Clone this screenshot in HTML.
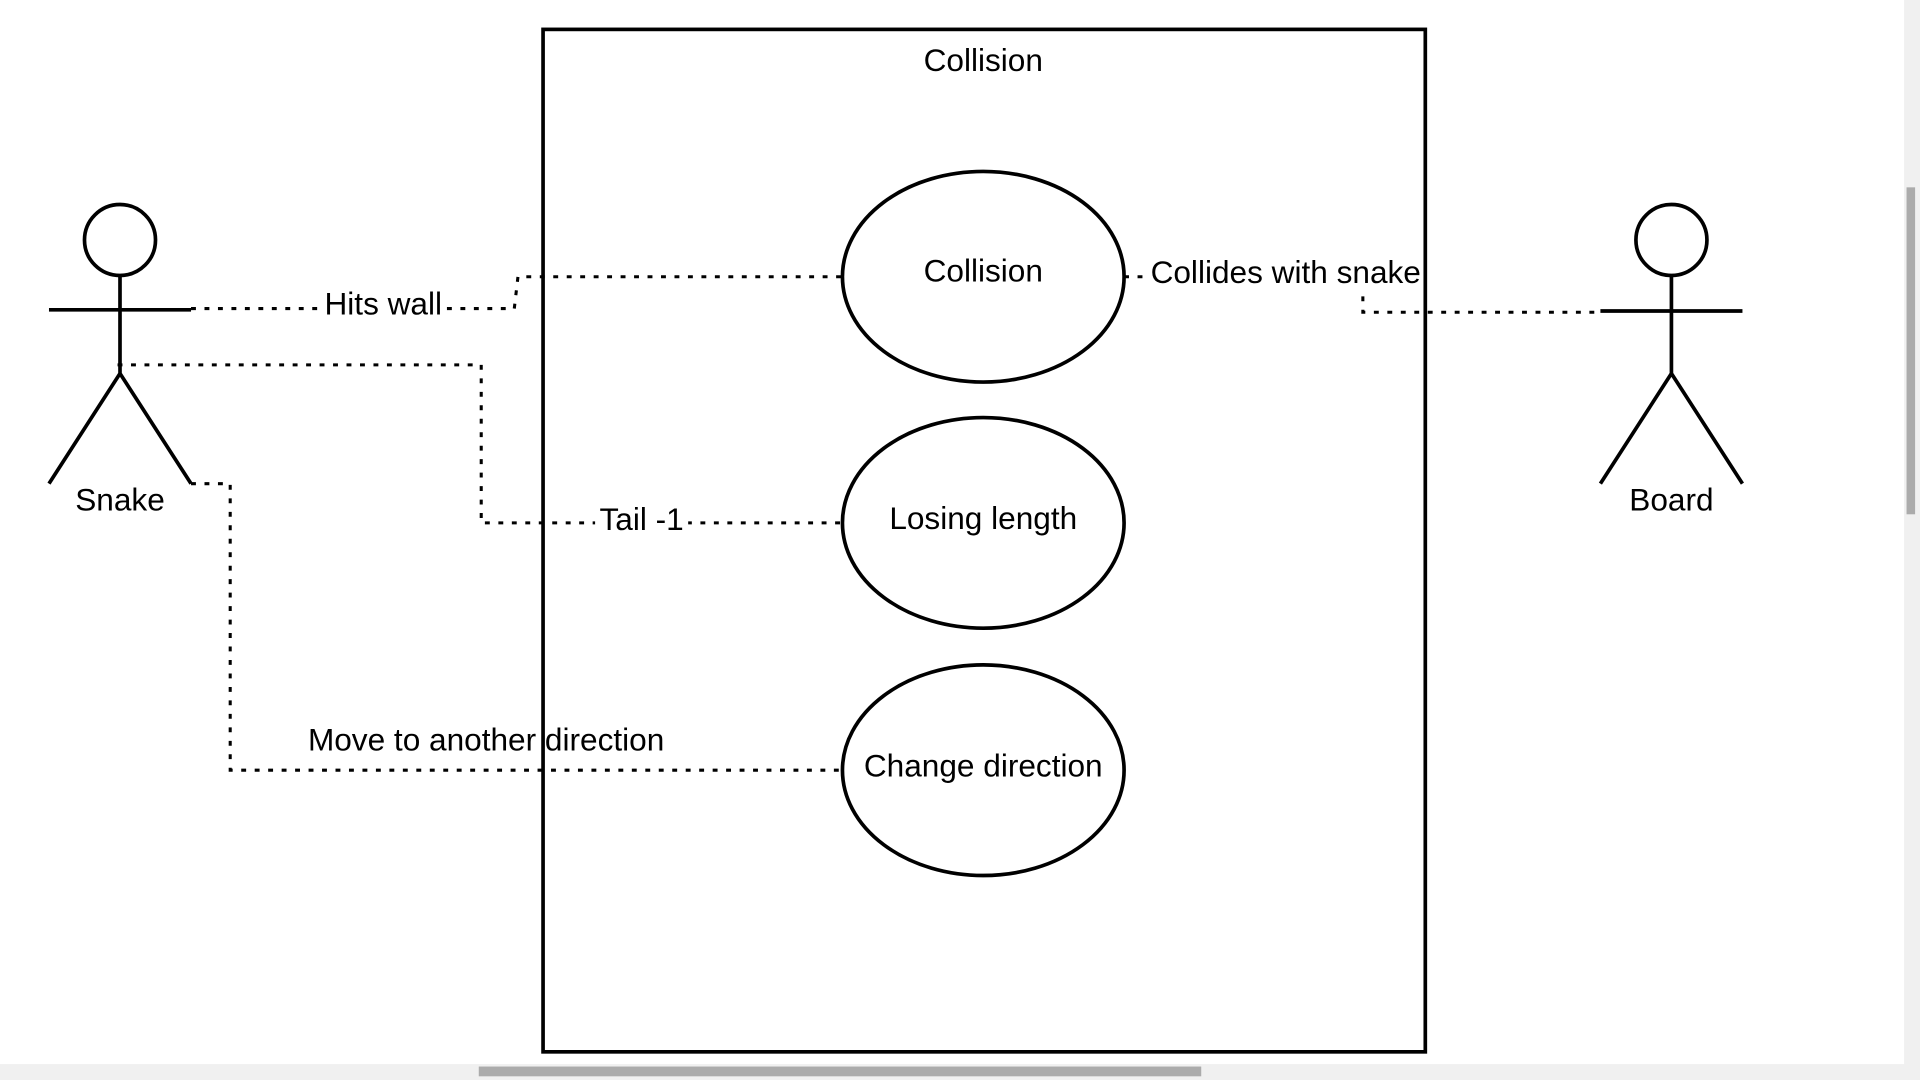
<!DOCTYPE html>
<html><head><style>html,body{margin:0;padding:0;background:#fff;overflow:hidden}svg{display:block}</style></head>
<body>
<svg width="1920" height="1080" viewBox="0 0 1568 882" xmlns="http://www.w3.org/2000/svg" font-family="Liberation Sans, sans-serif" font-size="25.8">
<rect x="0" y="0" width="1568" height="882" fill="#fff"/>
<rect x="443.5" y="24" width="720.5" height="835" fill="none" stroke="#000" stroke-width="3"/>
<text x="803" y="58" text-anchor="middle">Collision</text>
<g fill="none" stroke="#000" stroke-width="2.5" stroke-dasharray="4 7">
<path d="M156 252 H420 L423 226 H688"/>
<path d="M96 298 H393 V427 H688"/>
<path d="M156 395 H188 V629 H688"/>
<path d="M918 226 H940"/>
<path d="M1113 242 V255 H1307"/>
</g>
<g fill="none" stroke="#000" stroke-width="3">
<ellipse cx="803" cy="226" rx="115" ry="86"/>
<ellipse cx="803" cy="427" rx="115" ry="86"/>
<ellipse cx="803" cy="629" rx="115" ry="86"/>
<circle cx="98" cy="196" r="29"/>
<path d="M98 225 V305 M40 253 H156 M98 305 L40 395 M98 305 L156 395"/>
<circle cx="1365" cy="196" r="29"/>
<path d="M1365 225 V305 M1307 254 H1423 M1365 305 L1307 395 M1365 305 L1423 395"/>
</g>
<rect x="264" y="234" width="98" height="30" fill="#fff"/>
<text x="313" y="257" text-anchor="middle">Hits wall</text>
<rect x="486" y="410" width="76" height="30" fill="#fff"/>
<text x="524" y="433" text-anchor="middle">Tail -1</text>
<text x="397" y="613" text-anchor="middle">Move to another direction</text>
<rect x="940" y="208" width="222" height="30" fill="#fff"/>
<text x="1050" y="231" text-anchor="middle">Collides with snake</text>
<text x="803" y="230" text-anchor="middle">Collision</text>
<text x="803" y="432" text-anchor="middle">Losing length</text>
<text x="803" y="634" text-anchor="middle">Change direction</text>
<text x="98" y="417" text-anchor="middle">Snake</text>
<text x="1365" y="417" text-anchor="middle">Board</text>
<rect x="1555" y="0" width="13" height="882" fill="#f0f0f0"/>
<rect x="1557" y="153" width="7" height="267" fill="#ababab"/>
<rect x="0" y="869" width="1568" height="13" fill="#f0f0f0"/>
<rect x="391" y="871" width="590" height="8" fill="#ababab"/>
</svg>
</body></html>
